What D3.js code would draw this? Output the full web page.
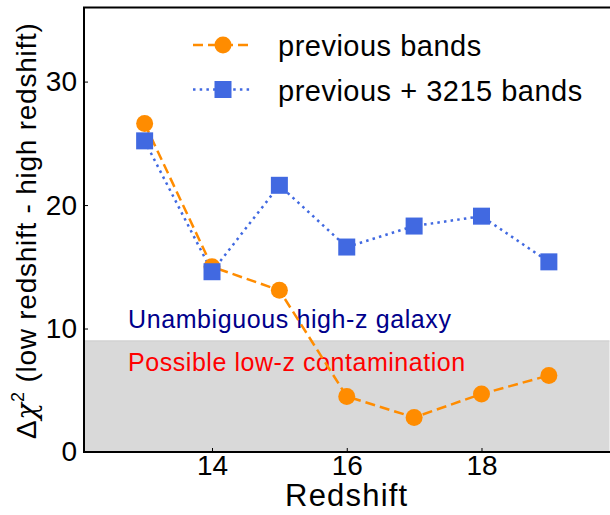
<!DOCTYPE html>
<html>
<head>
<meta charset="utf-8">
<script src="https://cdn.jsdelivr.net/npm/d3@7"></script>
<style>
  html, body { margin: 0; padding: 0; background: #fff; }
  svg { display: block; }
  text { font-family: "Liberation Sans", Arial, Helvetica, sans-serif; }
</style>
</head>
<body>
<svg id="chart" width="610" height="515"></svg>
<script>
// ---- data ----
const redshift = [13, 14, 15, 16, 17, 18, 19];
const previousBands = [26.6, 15.0, 13.1, 4.5, 2.8, 4.7, 6.2];
const previousPlus3215 = [25.2, 14.6, 21.6, 16.6, 18.3, 19.1, 15.4];
const xTicks = [14, 16, 18];
const yTicks = [0, 10, 20, 30];
const seriesNames = ["previous bands", "previous + 3215 bands"];
const threshold = 9;
const xDomain = [12.1, 19.9];
const yDomain = [0, 36];

// ---- layout ----
const svg = d3.select("#chart");
const L = 84, R = 609.5, T = 7.5, B = 452;
const x = d3.scaleLinear().domain(xDomain).range([L, R]);
const y = d3.scaleLinear().domain(yDomain).range([B, T]);

const orange = "#FF8C00", blue = "#4169E1";

// shaded region
svg.append("rect")
  .attr("x", L).attr("y", y(threshold))
  .attr("width", R - L).attr("height", y(0) - y(threshold))
  .attr("fill", "#d9d9d9");
svg.append("line")
  .attr("x1", L).attr("x2", R)
  .attr("y1", y(threshold)).attr("y2", y(threshold))
  .attr("stroke", "#cccccc").attr("stroke-width", 1);

// annotations
svg.append("text").attr("x", 128).attr("y", 327.5)
  .attr("font-size", 25).attr("fill", "#00008B").attr("letter-spacing", 0.6)
  .text("Unambiguous high-z galaxy");
svg.append("text").attr("x", 128).attr("y", 370.5)
  .attr("font-size", 25).attr("fill", "#FF0000").attr("letter-spacing", 0.55)
  .text("Possible low-z contamination");

// axes
const xAxis = d3.axisBottom(x).tickValues(xTicks).tickSizeInner(-4).tickSizeOuter(0).tickPadding(3);
const gx = svg.append("g").attr("transform", `translate(0,${B})`).call(xAxis);
const yAxis = d3.axisLeft(y).tickValues(yTicks).tickSizeInner(-4).tickSizeOuter(0).tickPadding(7);
const gy = svg.append("g").attr("transform", `translate(${L},0)`).call(yAxis);
[gx, gy].forEach(g => {
  g.selectAll(".domain").remove();
  g.selectAll(".tick line").attr("stroke", "#000").attr("stroke-width", 1);
  g.selectAll(".tick text").attr("font-size", 28).attr("fill", "#000")
    .attr("font-family", "'Liberation Sans', Arial, sans-serif");
});
// spines
svg.append("line").attr("x1", L).attr("x2", L).attr("y1", T).attr("y2", B + 1)
  .attr("stroke", "#000").attr("stroke-width", 2);
svg.append("line").attr("x1", L - 1).attr("x2", 610).attr("y1", B).attr("y2", B)
  .attr("stroke", "#000").attr("stroke-width", 2);
svg.append("line").attr("x1", L - 1).attr("x2", 610).attr("y1", T).attr("y2", T)
  .attr("stroke", "#000").attr("stroke-width", 2);

// axis labels
svg.append("text").attr("x", (L + R) / 2).attr("y", 506)
  .attr("text-anchor", "middle").attr("font-size", 31).attr("letter-spacing", 1.2)
  .text("Redshift");
const yl = svg.append("text")
  .attr("transform", `translate(36,${(T + B) / 2 + 1}) rotate(-90)`)
  .attr("text-anchor", "middle").attr("font-size", 28).attr("letter-spacing", 0.75);
yl.append("tspan").text("Δ");
yl.append("tspan").attr("font-style", "italic").attr("font-family", "'DejaVu Serif', serif").text("χ");
yl.append("tspan").attr("font-size", 18).attr("dy", -12).text("2");
yl.append("tspan").attr("dy", 12).text(" (low redshift - high redshift)");

// lines
const line = (vals) => d3.line().x((d, i) => x(redshift[i])).y(d => y(d))(vals);
svg.append("path").attr("d", line(previousBands)).attr("fill", "none")
  .attr("stroke", orange).attr("stroke-width", 2.5).attr("stroke-dasharray", "10,5");
svg.append("path").attr("d", line(previousPlus3215)).attr("fill", "none")
  .attr("stroke", blue).attr("stroke-width", 2.5).attr("stroke-dasharray", "2.5,4.2");

// markers
svg.append("g").selectAll("circle").data(previousBands).join("circle")
  .attr("cx", (d, i) => x(redshift[i])).attr("cy", d => y(d)).attr("r", 8.5)
  .attr("fill", orange);
const sq = 17;
svg.append("g").selectAll("rect").data(previousPlus3215).join("rect")
  .attr("x", (d, i) => x(redshift[i]) - sq / 2).attr("y", d => y(d) - sq / 2)
  .attr("width", sq).attr("height", sq).attr("fill", blue);

// legend
const legendY = [45, 89.5];
const lg = svg.append("g");
lg.append("line").attr("x1", 193).attr("x2", 253).attr("y1", legendY[0]).attr("y2", legendY[0])
  .attr("stroke", orange).attr("stroke-width", 2.5).attr("stroke-dasharray", "10,5");
lg.append("circle").attr("cx", 223).attr("cy", legendY[0]).attr("r", 8.5).attr("fill", orange);
lg.append("line").attr("x1", 193).attr("x2", 253).attr("y1", legendY[1]).attr("y2", legendY[1])
  .attr("stroke", blue).attr("stroke-width", 2.5).attr("stroke-dasharray", "2.5,4.2");
lg.append("rect").attr("x", 223 - sq / 2).attr("y", legendY[1] - sq / 2)
  .attr("width", sq).attr("height", sq).attr("fill", blue);
seriesNames.forEach((n, i) => {
  lg.append("text").attr("x", 278).attr("y", legendY[i] + 11)
    .attr("font-size", 29).attr("letter-spacing", 0.5).text(n);
});
</script>
</body>
</html>
